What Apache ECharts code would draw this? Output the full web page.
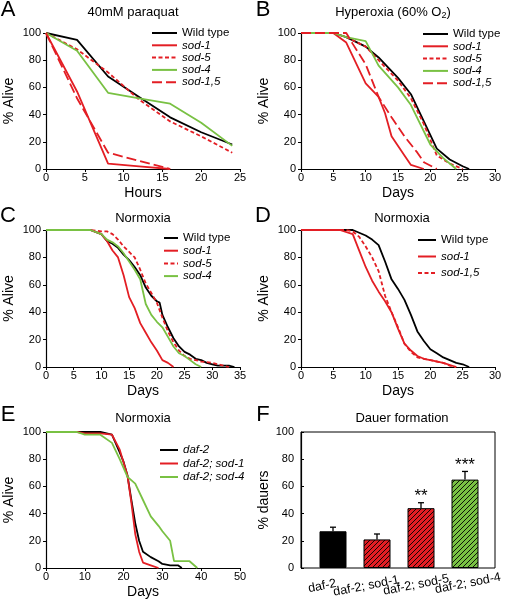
<!DOCTYPE html>
<html><head><meta charset="utf-8">
<script src="https://cdn.jsdelivr.net/npm/echarts@6/dist/echarts.min.js"></script>
<style>html,body{margin:0;padding:0;background:#fff}#c{width:511px;height:602px}</style>
</head><body><div id="c"></div>
<script>
// ---------- DATA ----------
// Panel A: 40mM paraquat (hours)
const A_x = [0,4,8,12,16,20,24];
const A_wt = [100,95,68,53,38,27,18];
const A_sod1 = [100,57,4,2,0];
const A_sod5 = [100,88,71,51,35,24,12];
const A_sod4 = [100,87,56,52,48,34,17];
const A_sod15 = [100,52,12,6,0];
// Panel B: Hyperoxia
const B_wt_x = [0,5,7,10,12,15,17,19,21,23,25,26];
const B_wt = [100,100,97,90,82,67,55,35,15,7,2,0];
const B_sod1_x = [0,5,7,10,12,13,14,16,17,19];
const B_sod1 = [100,100,93,63,53,41,24,10,3,0];
const B_sod5_x = [0,5,7,10,12,15,17,19,21,23,25];
const B_sod5 = [100,100,97,90,80,65,52,33,10,4,0];
const B_sod4_x = [0,5,7,10,12,15,17,20,22,24];
const B_sod4 = [100,100,97,94,76,60,47,18,8,0];
const B_sod15_x = [0,7,8,10,12,14,16,18,19,21];
const B_sod15 = [100,100,92,77,53,38,24,12,5,0];
// Panel C: Normoxia
const C_wt_x = [0,8,10,11,12,13,14,15,16,17,18,19,20,20.5,21,22,23,24,25,26,27,28,29,30,31,33,34];
const C_wt = [100,100,97,92,90,87,82,78,73,67,58,52,48,47,38,29,21,15,11,9,6,5,3,2,1,1,0];
const C_sod1_x = [0,8,10,11,12,13,14,15,16,17,18,19,20,21,22,23];
const C_sod1 = [100,100,97,92,85,80,67,51,43,32,25,18,12,5,3,0];
const C_sod5_x = [0,8,10,11,12,13,14,15,16,17,18,19,20,21,22,23,24,25,26,27,28,30,32,33];
const C_sod5 = [100,100,99,99,97,93,88,84,80,71,61,54,47,36,26,18,12,8,6,5,4,3,1,0];
const C_sod4_x = [0,8,10,11,12,13,14,15,16,17,18,19,20,21,22,23,24,25,26,27,28];
const C_sod4 = [100,100,97,93,91,88,83,77,71,64,46,38,33,29,22,15,10,8,5,2,0];
// Panel D: Normoxia
const D_wt_x = [0,8,9,10,11,12,13,14,15,16,17,18,19,20,21,22,23,24,25,26];
const D_wt = [100,100,98,96,93,89,77,64,57,49,38,26,19,13,10,7,5,3,2,0];
const D_sod1_x = [0,6,8,9,10,11,12,13,14,15,16,17,18,19,20,22,24];
const D_sod1 = [100,100,97,85,73,63,55,48,40,28,17,12,8,6,5,3,0];
const D_sod15_x = [0,7,8,9,10,11,12,13,14,15,16,17,18,19,20,22,23,24];
const D_sod15 = [100,100,99,95,88,80,70,52,40,29,17,11,7,6,5,3,1,0];
// Panel E: Normoxia, daf-2 background
const E_daf2_x = [0,14,17,19,20,21,22,23,24,25,27,29,30,32,34,35];
const E_daf2 = [100,100,98,85,78,68,50,33,20,12,8,5,3,2,2,0];
const E_sod1_x = [0,8,10,14,17,19,21,22,23,24,25,27,29];
const E_sod1 = [100,100,99,99,98,87,68,48,25,12,4,2,0];
const E_sod4_x = [0,8,10,14,17,19,21,23,25,27,29,30,32,33,37,39];
const E_sod4 = [100,100,98,98,92,80,67,62,50,38,31,27,20,5,5,0];
// Panel F: Dauer formation
const F_cats = ['daf-2','daf-2; sod-1','daf-2; sod-5','daf-2; sod-4'];
const F_vals = [27,21,44,65];
const F_err = [3,4,4,6];
const F_sig = ['','','**','***'];
// Axis ticks
const yTicks = {min:0, max:100, interval:20};

// ---------- STYLE ----------
const RED = '#e31e24', GREEN = '#79c143', BLACK = '#000';
const FONT = 'Liberation Sans, Arial, Helvetica, sans-serif';
const SHORT = [4,2.5], LONG = [10,4];
const zip = (xs, ys) => ys.map((y,i)=>[xs[i], y]);
const F_labelPad = [[0,22,0,0],[6,22,0,0],[8,10,0,0],[2,0,0,6]];

const gridBase = {outerBoundsMode:'none', containLabel:false};
const grids = [
  {left:46, top:33, width:194, height:136},
  {left:301, top:33, width:194, height:136},
  {left:46, top:230, width:194, height:137},
  {left:301, top:230, width:194, height:137},
  {left:46, top:432, width:194, height:136},
  {left:301, top:432, width:194, height:136, show:true, borderColor:'#000', borderWidth:1},
  {left:311, top:432, width:176, height:136}
].map(g=>Object.assign({}, gridBase, g));

function valX(idx, max, interval, name){
  return {type:'value', gridIndex:idx, min:0, max:max, interval:interval,
    name:name, nameLocation:'middle', nameGap:17,
    nameTextStyle:{fontSize:14, color:'#000', fontFamily:FONT},
    axisLine:{lineStyle:{color:'#000', width:1.2}},
    axisTick:{show:true, inside:false, length:3, lineStyle:{color:'#000'}},
    axisLabel:{color:'#000', fontSize:11, margin:3, fontFamily:FONT},
    splitLine:{show:false}};
}
function valY(idx, name, inside){
  return {type:'value', gridIndex:idx, min:yTicks.min, max:yTicks.max, interval:yTicks.interval,
    name:name, nameLocation:'middle', nameGap:30,
    nameTextStyle:{fontSize:14, color:'#000', fontFamily:FONT},
    axisLine:{show:true, lineStyle:{color:'#000', width:1.2}},
    axisTick:{show:true, inside:!!inside, length:3, lineStyle:{color:'#000'}},
    axisLabel:{color:'#000', fontSize:11, margin:inside?7:5, fontFamily:FONT},
    splitLine:{show:false}};
}

function line(panel, name, xs, ys, color, type){
  return {type:'line', name:panel+'|'+name, xAxisIndex:'ABCDE'.indexOf(panel), yAxisIndex:'ABCDE'.indexOf(panel),
    data:zip(xs, ys), symbol:'none', animation:false,
    lineStyle:{color:color, width:1.8, type:type||'solid'}, itemStyle:{color:color}};
}

function hatch(bg){
  const c = document.createElement('canvas');
  const s = 5; c.width = s; c.height = s;
  const g = c.getContext('2d');
  g.fillStyle = bg; g.fillRect(0,0,s,s);
  g.strokeStyle = '#000'; g.lineWidth = 0.9;
  g.beginPath();
  g.moveTo(0,s); g.lineTo(s,0);
  g.moveTo(-1,1); g.lineTo(1,-1);
  g.moveTo(s-1,s+1); g.lineTo(s+1,s-1);
  g.stroke();
  return {image:c, repeat:'repeat'};
}
const F_fill = [BLACK, hatch(RED), hatch(RED), hatch(GREEN)];

function legend(panel, names, left, top, iw, gap){
  return {orient:'vertical', left:left, top:top, itemWidth:iw, itemHeight:10, itemGap:gap,
    padding:0, selectedMode:false, itemStyle:{opacity:0},
    data:names.map(n=>panel+'|'+n),
    formatter:function(n){const t=n.split('|')[1]; return (t==='Wild type') ? '{r|'+t+'}' : '{i|'+t+'}';},
    textStyle:{fontSize:11.5, color:'#000', fontFamily:FONT, lineHeight:11,
      rich:{r:{fontSize:11.5, fontFamily:FONT, lineHeight:11}, i:{fontSize:11.5, fontStyle:'italic', fontFamily:FONT, lineHeight:11}}}};
}

function txt(x, y, text, size, extra){
  return Object.assign({type:'text', x:x, y:y, silent:true,
    style:{text:text, font:size+'px '+FONT, fill:'#000', align:'center', verticalAlign:'middle', textAlign:'center', textVerticalAlign:'middle'}}, extra||{});
}

const option = {
  animation:false,
  backgroundColor:'#fff',
  textStyle:{fontFamily:FONT},
  grid:grids,
  xAxis:[
    valX(0,25,5,'Hours'), valX(1,30,5,'Days'), valX(2,35,5,'Days'), valX(3,30,5,'Days'), valX(4,50,10,'Days'),
    {type:'value', gridIndex:5, min:0, max:1, show:false},
    {type:'category', gridIndex:6, axisLine:{show:false}, axisTick:{show:false},
      data:F_cats.map((c,i)=>({value:c, textStyle:{align:'center', verticalAlign:'middle', padding:F_labelPad[i]}})),
      axisLabel:{color:'#000', fontSize:12.5, rotate:11, margin:16, interval:0, align:'center', verticalAlign:'middle', fontFamily:FONT, hideOverlap:false}}
  ],
  yAxis:[
    valY(0,'% Alive'), valY(1,'% Alive'), valY(2,'% Alive'), valY(3,'% Alive'), valY(4,'% Alive'),
    valY(5,'% dauers', true),
    {type:'value', gridIndex:6, min:0, max:100, show:false}
  ],
  legend:[
    legend('A',['Wild type','sod-1','sod-5','sod-4','sod-1,5'],151,27,25,0.3),
    legend('B',['Wild type','sod-1','sod-5','sod-4','sod-1,5'],422,28,25,0.3),
    legend('C',['Wild type','sod-1','sod-5','sod-4'],163,232,14,0.7),
    legend('D',['Wild type','sod-1','sod-1,5'],417,234,18,4.5),
    legend('E',['daf-2','daf-2; sod-1','daf-2; sod-4'],159,444,18,1.5)
  ],
  series:[
    line('A','Wild type',A_x,A_wt,BLACK),
    line('A','sod-1',A_x,A_sod1,RED),
    line('A','sod-5',A_x,A_sod5,RED,SHORT),
    line('A','sod-4',A_x,A_sod4,GREEN),
    line('A','sod-1,5',A_x,A_sod15,RED,LONG),

    line('B','Wild type',B_wt_x,B_wt,BLACK),
    line('B','sod-1',B_sod1_x,B_sod1,RED),
    line('B','sod-5',B_sod5_x,B_sod5,RED,SHORT),
    line('B','sod-4',B_sod4_x,B_sod4,GREEN),
    line('B','sod-1,5',B_sod15_x,B_sod15,RED,LONG),

    line('C','Wild type',C_wt_x,C_wt,BLACK),
    line('C','sod-1',C_sod1_x,C_sod1,RED),
    line('C','sod-5',C_sod5_x,C_sod5,RED,SHORT),
    line('C','sod-4',C_sod4_x,C_sod4,GREEN),

    line('D','Wild type',D_wt_x,D_wt,BLACK),
    line('D','sod-1',D_sod1_x,D_sod1,RED),
    line('D','sod-1,5',D_sod15_x,D_sod15,RED,SHORT),

    line('E','daf-2',E_daf2_x,E_daf2,BLACK),
    line('E','daf-2; sod-1',E_sod1_x,E_sod1,RED),
    line('E','daf-2; sod-4',E_sod4_x,E_sod4,GREEN),

    {type:'bar', name:'F', xAxisIndex:6, yAxisIndex:6, barWidth:27,
      data:F_vals.map((v,i)=>({value:v, itemStyle:{color:F_fill[i]}})),
      itemStyle:{borderColor:'#000', borderWidth:1}},
    {type:'custom', name:'F-err', xAxisIndex:6, yAxisIndex:6, z:5,
      data:F_vals.map((v,i)=>[i, v, F_err[i]]),
      renderItem:function(params, api){
        const i = api.value(0), v = api.value(1), e = api.value(2);
        const b = api.coord([i, v]); const t = api.coord([i, v+e]);
        const s = {stroke:'#000', lineWidth:1.3};
        return {type:'group', children:[
          {type:'line', shape:{x1:b[0], y1:b[1], x2:t[0], y2:t[1]}, style:s},
          {type:'line', shape:{x1:t[0]-3, y1:t[1], x2:t[0]+3, y2:t[1]}, style:s},
          {type:'text', x:t[0], y:t[1]+2, style:{text:F_sig[params.dataIndex], font:'17px '+FONT, fill:'#000', align:'center', verticalAlign:'bottom'}}
        ]};
      }}
  ],
  graphic:[
    txt(8,10,'A',22), txt(263,10,'B',22), txt(8,216,'C',22), txt(263,216,'D',22), txt(8,415,'E',22), txt(263,415,'F',22),
    txt(133,12,'40mM paraquat',13),
    {type:'text', x:393, y:12, silent:true, style:{text:'{a|Hyperoxia (60% O}{s|2}{a|)}', align:'center', verticalAlign:'middle',
      rich:{a:{fontSize:13, fontFamily:FONT, fill:'#000', color:'#000'}, s:{fontSize:9, fontFamily:FONT, fill:'#000', color:'#000', padding:[7,0,0,0]}}}},
    txt(143,218,'Normoxia',13), txt(402,218,'Normoxia',13), txt(143,418,'Normoxia',13), txt(402,418,'Dauer formation',13)
  ]
};
const chart = echarts.init(document.getElementById('c'), null, {renderer:'canvas'});
chart.setOption(option);
</script></body></html>
